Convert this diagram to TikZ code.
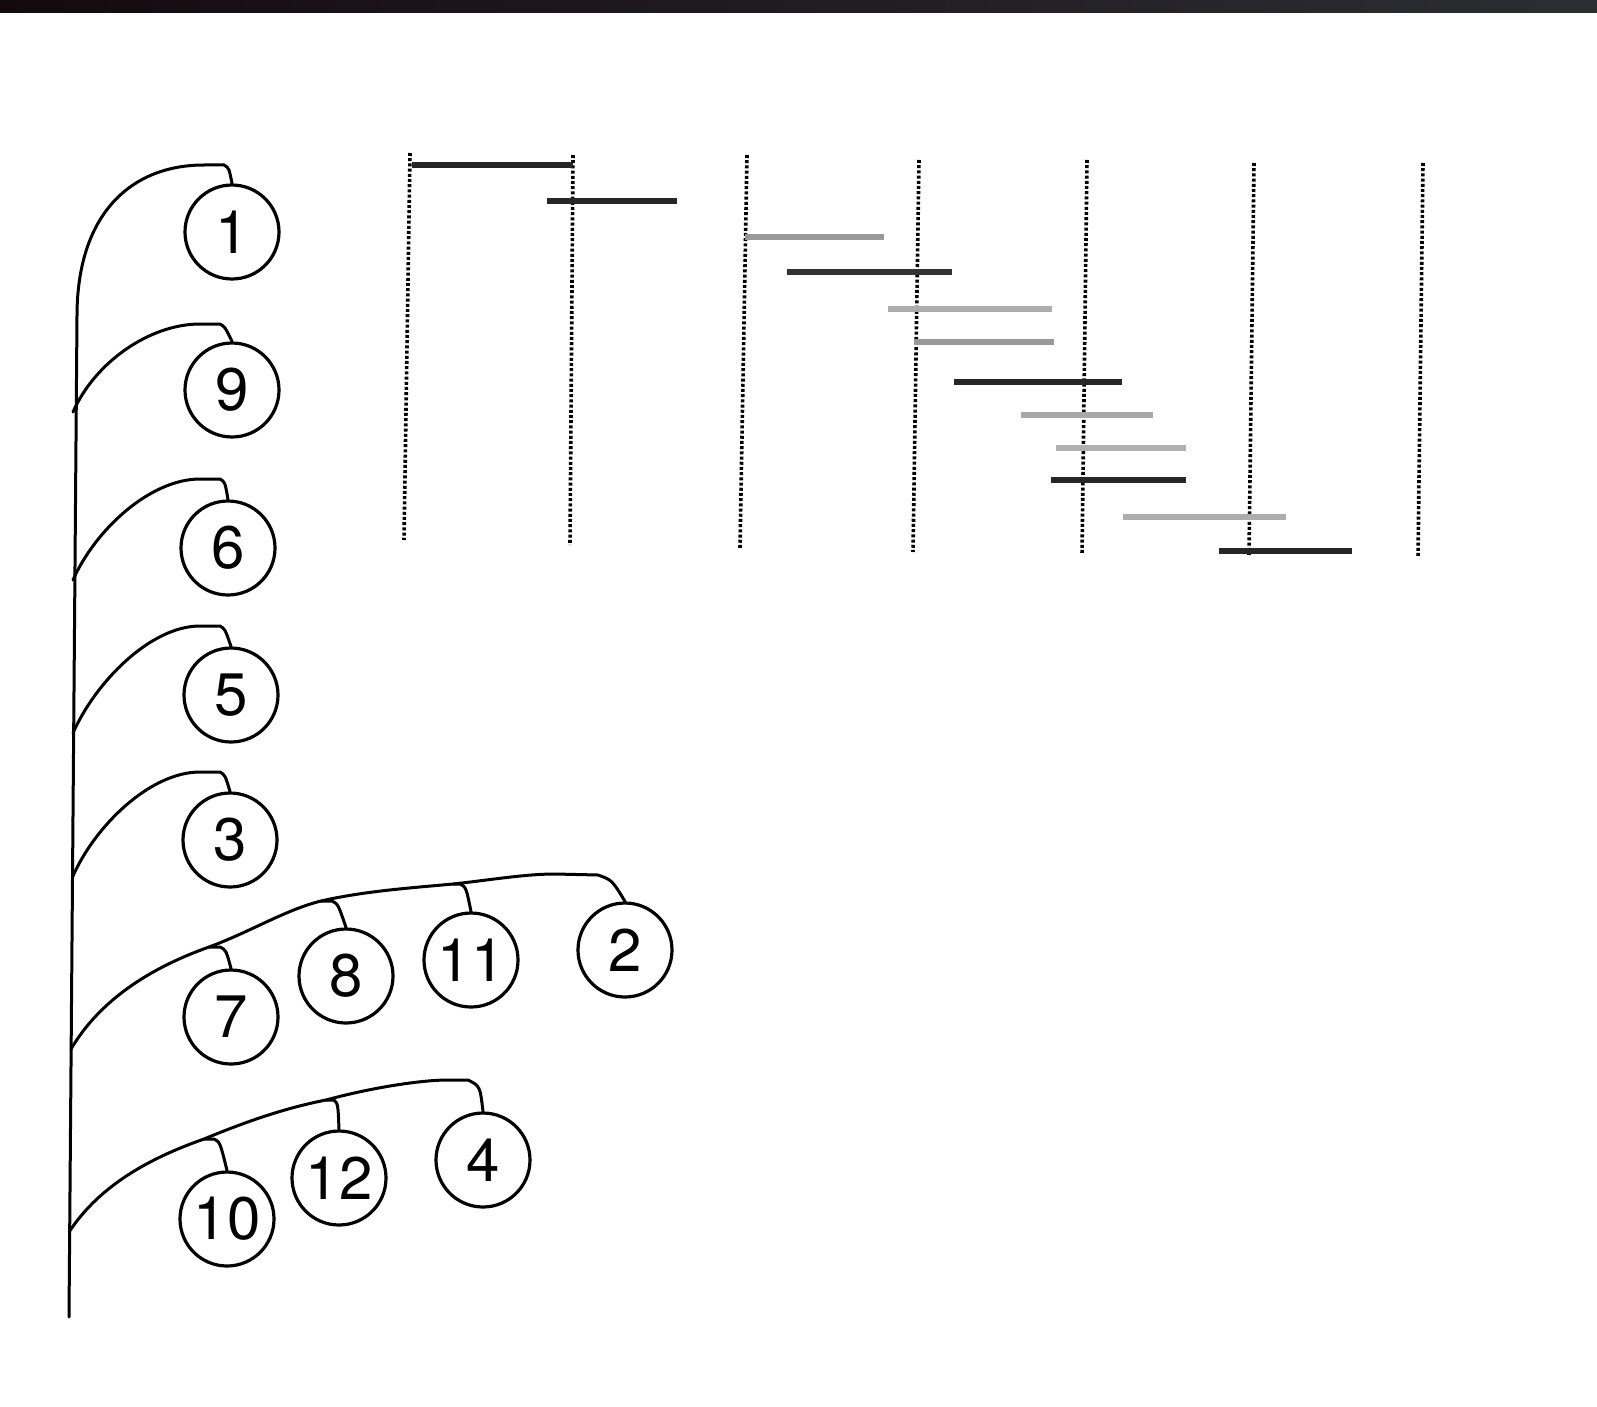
\documentclass[tikz,border=0pt]{standalone}
\usepackage{fontspec}
\setsansfont{TeX Gyre Heros}
\usepackage{xcolor}
\usepackage{tikz}
\usetikzlibrary{positioning}

\definecolor{topL}{RGB}{20,10,14}
\definecolor{topR}{RGB}{44,46,52}

\begin{document}
\begin{tikzpicture}[x=1pt, y=-1pt, font=\sffamily\fontsize{60}{60}\selectfont,
  leaf/.style={draw, circle, line width=3.2pt, minimum size=94pt, inner sep=0pt},
  twig/.style={line width=3pt, line cap=round},
  grid/.style={line width=3.6pt, dash pattern=on 3pt off 2.2pt},
  bar/.style={line width=5.5pt}
]
\useasboundingbox (0,0) rectangle (1597,1407);
\shade[left color=topL, right color=topR] (0,0) rectangle (1597,13);

% leaves
\node[leaf] (c1)  at (232,232)  {1};
\node[leaf] (c9)  at (232,390)  {9};
\node[leaf] (c6)  at (228,548)  {6};
\node[leaf] (c5)  at (231,695)  {5};
\node[leaf] (c3)  at (230,840)  {3};
\node[leaf] (c7)  at (231,1017) {7};
\node[leaf] (c8)  at (346,976)  {8};
\node[leaf] (c11) at (471,960)  {11};
\node[leaf] (c2)  at (625,950)  {2};
\node[leaf] (c10) at (227,1219) {10};
\node[leaf] (c12) at (339,1178) {12};
\node[leaf] (c4)  at (483,1160) {4};

% trunk and branches
\coordinate (root) at (69,1317);
\coordinate (top)  at (77,316);
\draw[twig] (root) -- (top) .. controls (77,215) and (130,165) .. (204,165)
  -- (224,165) .. controls (229,168) .. (c1.north);

\foreach \n/\s/\a in {9/412/324, 6/580/479, 5/733/626, 3/876/772}
  \draw[twig] (73,\s) .. controls (95,\s-50) and (150,\a) .. (200,\a)
    -- (220,\a) .. controls (225,\a+3) .. (c\n.north);

\coordinate (h7)  at (209,947);
\coordinate (h8)  at (321,901);
\coordinate (h11) at (453,884);
\draw[twig] (71,1049) .. controls (100,1000) and (150,968) .. (h7)
  .. controls (250,932) and (285,910) .. (h8)
  .. controls (365,891) and (410,888) .. (h11)
  .. controls (490,880) and (525,874) .. (555,874) -- (598,875)
  .. controls (612,880) .. (c2.north);
\draw[twig] (h7) -- (220,947) .. controls (226,950) .. (c7.north);
\draw[twig] (h8) -- (332,901) .. controls (338,904) .. (c8.north);
\draw[twig] (h11) -- (460,884) .. controls (466,887) .. (c11.north);

\coordinate (h10) at (204,1139);
\coordinate (h12) at (326,1100);
\draw[twig] (69,1232) .. controls (100,1185) and (150,1158) .. (h10)
  .. controls (245,1122) and (285,1108) .. (h12)
  .. controls (370,1088) and (420,1080) .. (448,1080) -- (468,1080)
  .. controls (480,1086) .. (c4.north);
\draw[twig] (h10) -- (214,1139) .. controls (220,1142) .. (c10.north);
\draw[twig] (h12) -- (334,1100) .. controls (338,1104) .. (c12.north);

% dotted rules
\foreach \xa/\ya/\xb/\yb in {410/153/404/540, 573/155/570/545, 747/155/740/548,
    919/160/913/552, 1087/160/1082/555, 1254/163/1249/555, 1423/163/1418/558}
  \draw[grid] (\xa,\ya) -- (\xb,\yb);

% bars
\foreach \y/\a/\b/\c in {165/412/573/black!85, 201/547/677/black!85,
    237/745/884/gray!80, 272/787/952/black!80, 309/888/1052/gray!65,
    342/914/1054/gray!80, 382/954/1122/black!85, 415/1021/1153/gray!68,
    448/1056/1186/gray!62, 480/1051/1186/black!85, 517/1123/1286/gray!65,
    551/1219/1352/black!85}
  \draw[bar, \c] (\a,\y) -- (\b,\y);
\end{tikzpicture}
\end{document}
